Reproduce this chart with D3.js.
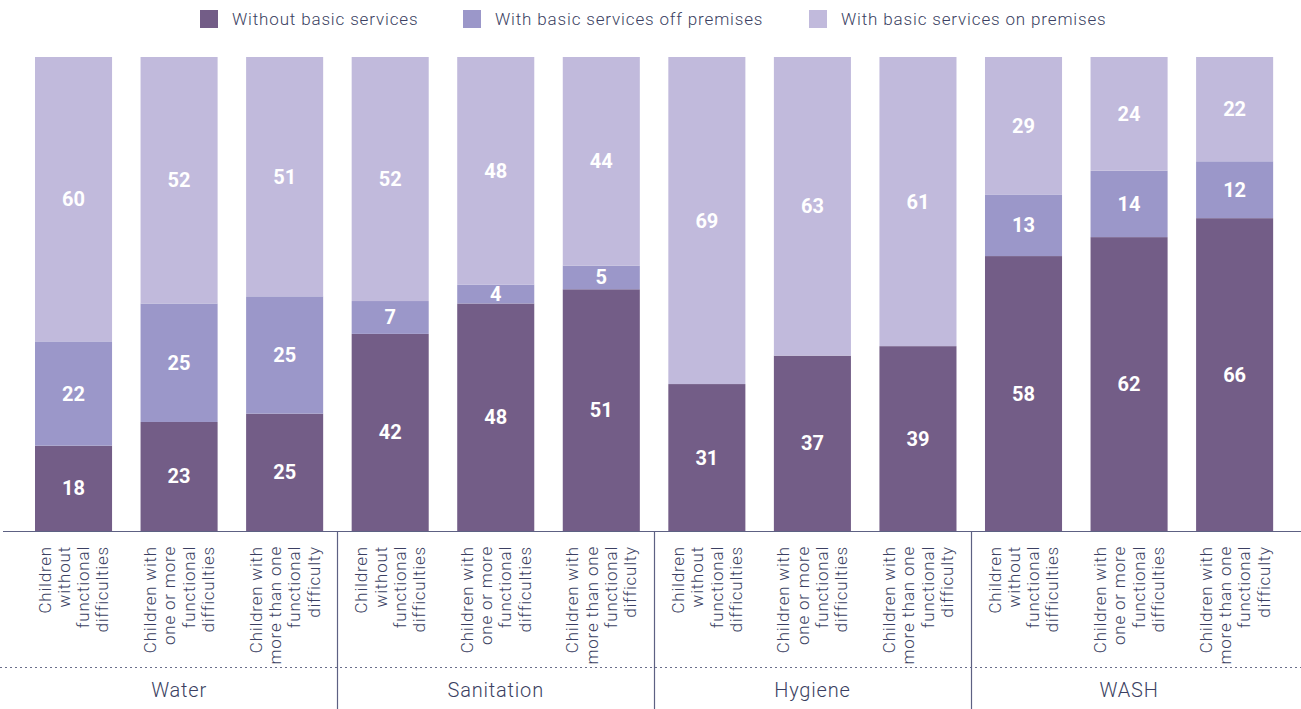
<!DOCTYPE html>
<html><head><meta charset="utf-8">
<script src="https://cdn.jsdelivr.net/npm/d3@7"></script>
<style>
html,body{margin:0;padding:0;background:#fff;}
svg{display:block;font-family:Roboto,"Liberation Sans",sans-serif;}
</style></head>
<body><svg id="chart" width="1301" height="709"></svg>
<script>
const groups = ["Water","Sanitation","Hygiene","WASH"];
const subgroups = [
  ["Children","without","functional","difficulties"],
  ["Children with","one or more","functional","difficulties"],
  ["Children with","more than one","functional","difficulty"]
];
const seriesNames = ["Without basic services","With basic services off premises","With basic services on premises"];
const seriesColors = ["#735d87","#9b97c9","#c1badc"];
const withoutBasic = [18,23,25, 42,48,51, 31,37,39, 58,62,66];
const offPremises  = [22,25,25,  7, 4, 5,  0, 0, 0, 13,14,12];
const onPremises   = [60,52,51, 52,48,44, 69,63,61, 29,24,22];

const rows = [];
groups.forEach((g,gi)=>subgroups.forEach((s,si)=>{
  const i = gi*3+si;
  rows.push({id:i, group:g, lines:s, s0:withoutBasic[i], s1:offPremises[i], s2:onPremises[i]});
}));

const svg = d3.select("#chart");
const W = 1301, H = 709;
const baseY = 531, topY = 57;
const textColor = "#3b3f62";
const lineColor = "#5d6183";

const x = d3.scaleBand().domain(rows.map(d=>d.id)).range([20.75, 1287.4]).paddingInner(0.27).paddingOuter(0.135);
const y = d3.scaleLinear().domain([0,1]).range([baseY, topY]);

const stack = d3.stack().keys(["s0","s1","s2"]).offset(d3.stackOffsetExpand);
const series = stack(rows);

const g = svg.append("g");
series.forEach((ser,k)=>{
  g.selectAll(null).data(ser).enter().append("rect")
    .attr("x", d=>x(d.data.id))
    .attr("width", x.bandwidth())
    .attr("y", d=>y(d[1]))
    .attr("height", d=>Math.max(0, y(d[0])-y(d[1])))
    .attr("fill", seriesColors[k]);
  g.selectAll(null).data(ser.filter(d=>d.data["s"+k]>0)).enter().append("text")
    .attr("x", d=>x(d.data.id)+x.bandwidth()/2)
    .attr("y", d=>(y(d[0])+y(d[1]))/2)
    .attr("dy","0.35em")
    .attr("text-anchor","middle")
    .attr("fill","#fff")
    .attr("font-weight",700)
    .attr("font-size","20px")
    .text(d=>d.data["s"+k]);
});

// baseline
svg.append("line").attr("x1",3).attr("x2",W).attr("y1",baseY+0.5).attr("y2",baseY+0.5)
  .attr("stroke",lineColor).attr("stroke-width",1.2);
// dotted line
svg.append("line").attr("x1",0).attr("x2",W).attr("y1",667.5).attr("y2",667.5)
  .attr("stroke","#6b6f8c").attr("stroke-width",1.2).attr("stroke-dasharray","2,3");
// group separators
const step = x.step();
[3,6,9].forEach(i=>{
  const sx = Math.round(x(i) - step*x.paddingInner()/2)+0.5;
  svg.append("line").attr("x1",sx).attr("x2",sx).attr("y1",baseY).attr("y2",H)
    .attr("stroke",lineColor).attr("stroke-width",1.2);
});

// category labels (rotated)
const lineH = 19.3;
rows.forEach(d=>{
  const cx = x(d.id)+x.bandwidth()/2;
  const n = d.lines.length;
  const t = svg.append("text")
    .attr("transform",`translate(${cx},546) rotate(-90)`)
    .attr("text-anchor","end")
    .attr("fill",textColor)
    .attr("font-size","17px")
    .attr("letter-spacing","0.8px")
    .attr("font-weight",300);
  d.lines.forEach((ln,j)=>{
    t.append("tspan").attr("x",0)
      .attr("y", (j-(n-1)/2)*lineH + 6)
      .text(ln);
  });
});

// group labels
groups.forEach((gn,gi)=>{
  const c0 = x(gi*3)+x.bandwidth()/2, c2 = x(gi*3+2)+x.bandwidth()/2;
  svg.append("text").attr("x",(c0+c2)/2).attr("y",697)
    .attr("text-anchor","middle").attr("fill",textColor)
    .attr("font-size","20px").attr("letter-spacing","0.8px").attr("font-weight",300).text(gn);
});

// legend
const legendX = [200, 463, 809];
seriesNames.forEach((nm,k)=>{
  svg.append("rect").attr("x",legendX[k]).attr("y",10).attr("width",18).attr("height",18).attr("fill",seriesColors[k]);
  svg.append("text").attr("x",legendX[k]+32).attr("y",25).attr("fill",textColor)
    .attr("font-size","17px").attr("letter-spacing","0.85px").attr("font-weight",300).text(nm);
});
</script></body></html>
